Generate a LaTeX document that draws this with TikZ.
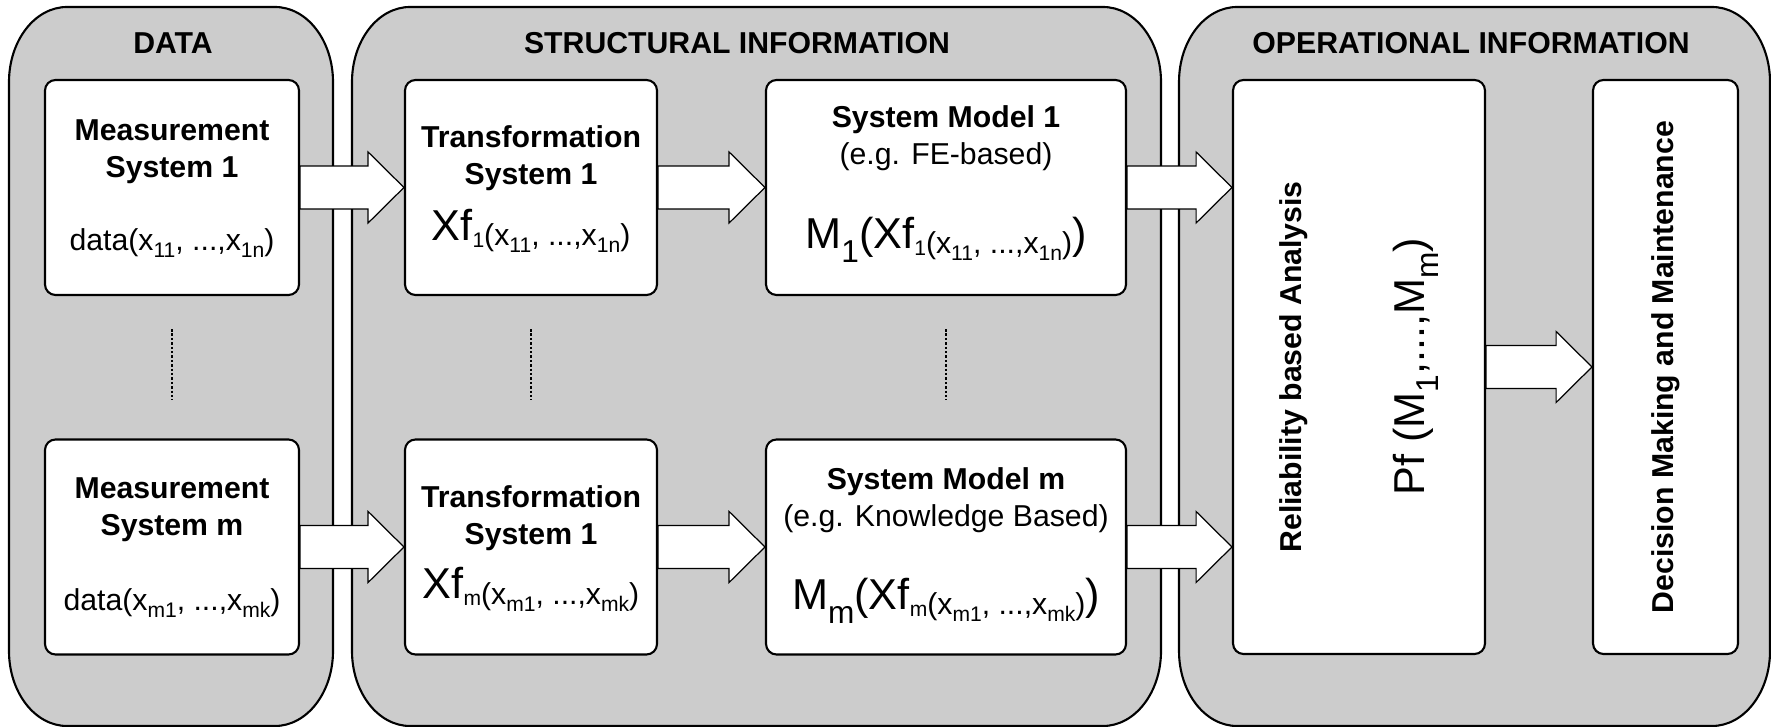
\documentclass[tikz,border=0pt]{standalone}
\usepackage{fontspec}
\setmainfont{Liberation Sans}
\usetikzlibrary{calc}
\definecolor{panelgray}{RGB}{204,204,204}
\newcommand{\bigtxt}{\fontsize{12.3}{14}\selectfont}
\newcommand{\smsub}[1]{\raisebox{-2pt}{\fontsize{6}{7}\selectfont #1}}
\newcommand{\lgsub}[1]{\raisebox{-4pt}{\fontsize{9}{10}\selectfont #1}}
\newcommand{\lowtxt}[1]{\raisebox{-1.5pt}{#1}}

\begin{document}
\begin{tikzpicture}[x=0.1mm, y=0.1mm,
        panel/.style={draw=black, line width=0.6pt, fill=panelgray},
        box/.style={rectangle, draw=black, line width=0.6pt, fill=white,
                    rounded corners=3pt, minimum height=21.5mm},
        head/.style={font=\fontsize{8.6}{10.5}\selectfont\bfseries,
                     align=center, inner sep=0pt},
        lbl/.style={font=\fontsize{8.6}{10.5}\selectfont, inner sep=0pt},
        dots/.style={line width=0.4pt, dash pattern=on 0.7pt off 0.55pt},
        fatarrow/.style={draw=black, line width=0.35pt, fill=white,
            to path={let \p1=(\tikztostart.east), \p2=(\tikztotarget.west) in
                (\x1,\y1+6.1pt) -- (\x2-10.2pt,\y1+6.1pt) -- (\x2-10.2pt,\y1+10.1pt)
                -- (\x2,\y1) -- (\x2-10.2pt,\y1-10.1pt) -- (\x2-10.2pt,\y1-6.1pt)
                -- (\x1,\y1-6.1pt) -- cycle}}]

        \useasboundingbox (0,0) rectangle (1771,727);

        % Grey panels with rounded ends
        \foreach \xa/\xb in {9/333, 352/1161, 1179/1770}
            \draw[panel] (\xa,76) -- (\xa,645)
                arc[start angle=180, end angle=90, x radius=58, y radius=75]
                -- (\xb-58,720) arc[start angle=90, end angle=0, x radius=58, y radius=75]
                -- (\xb,76) arc[start angle=0, end angle=-90, x radius=58, y radius=75]
                -- (\xa+58,1) arc[start angle=270, end angle=180, x radius=58, y radius=75]
                -- cycle;

        % Panel titles
        \node[head] at (173,684) {DATA};
        \node[head] at (737,684) {STRUCTURAL INFORMATION};
        \node[head] at (1471,684) {OPERATIONAL INFORMATION};

        % Measurement systems
        \node[box, minimum width=25.4mm] (ms1) at (172,539.5) {};
        \node[head] at ([yshift=-7.25mm]ms1.north) {Measurement\\System 1};
        \node[lbl] at ([yshift=-16.4mm]ms1.north)
            {data(x\smsub{11}, ...,x\smsub{1n})};

        \node[box, minimum width=25.4mm] (msm) at (172,180) {};
        \node[head] at ([yshift=-7.1mm]msm.north) {Measurement\\System m};
        \node[lbl] at ([yshift=-16.5mm]msm.north)
            {data(x\smsub{m1}, ...,x\smsub{mk})};

        % Transformation systems
        \node[box, minimum width=25.2mm] (ts1) at (531,539.5) {};
        \node[head] at ([yshift=-7.95mm]ts1.north) {Transformation\\System 1};
        \node[lbl] at ([yshift=-15.2mm]ts1.north)
            {{\bigtxt Xf}\smsub{1}\lowtxt{(x\smsub{11}, ...,x\smsub{1n})}};

        \node[box, minimum width=25.2mm] (tsm) at (531,180) {};
        \node[head] at ([yshift=-7.95mm]tsm.north) {Transformation\\System 1};
        \node[lbl] at ([yshift=-15.1mm]tsm.north)
            {{\bigtxt Xf}\smsub{m}\lowtxt{(x\smsub{m1}, ...,x\smsub{mk})}};

        % System models
        \node[box, minimum width=36mm] (sm1) at (946,539.5) {};
        \node[head] at ([yshift=-5.95mm]sm1.north)
            {System Model 1\\\mdseries (e.g. FE-based)};
        \node[lbl] at ([yshift=-16.1mm]sm1.north)
            {{\bigtxt M}\lgsub{1}{\bigtxt (Xf}\smsub{1}\lowtxt{(x\smsub{11}, ...,x\smsub{1n})}{\bigtxt )}};

        \node[box, minimum width=36mm] (smm) at (946,180) {};
        \node[head] at ([yshift=-6.15mm]smm.north)
            {System Model m\\\mdseries (e.g. Knowledge Based)};
        \node[lbl] at ([yshift=-16.2mm]smm.north)
            {{\bigtxt M}\lgsub{m}{\bigtxt (Xf}\smsub{m}\lowtxt{(x\smsub{m1}, ...,x\smsub{mk})}{\bigtxt )}};

        % Reliability analysis and decision making
        \node[box, minimum width=25.2mm, minimum height=57.4mm] (ra) at (1359,360) {};
        \node[head, rotate=90] at ([xshift=-6.5mm]ra.center) {Reliability based Analysis};
        \node[lbl, rotate=90] at ([xshift=5.7mm]ra.center)
            {\bigtxt Pf (M\lgsub{1},...,M\lgsub{m})};

        \node[box, minimum width=14.5mm, minimum height=57.4mm] (dm) at (1665.5,360) {};
        \node[head, rotate=90] at (dm.center) {Decision Making and Maintenance};

        % Dotted separators between first and last system
        \draw[dots] ([yshift=-3.3mm]ms1.south) -- ([yshift=3.9mm]msm.north);
        \draw[dots] ([yshift=-3.3mm]ts1.south) -- ([yshift=3.9mm]tsm.north);
        \draw[dots] ([yshift=-3.3mm]sm1.south) -- ([yshift=3.9mm]smm.north);

        % Block arrows
        \draw[fatarrow] (ms1) to (ts1);
        \draw[fatarrow] (msm) to (tsm);
        \draw[fatarrow] (ts1) to (sm1);
        \draw[fatarrow] (tsm) to (smm);
        \draw[fatarrow] (sm1) to (ra);
        \draw[fatarrow] (smm) to (ra);
        \draw[fatarrow] (ra) to (dm);

    \end{tikzpicture}
\end{document}
